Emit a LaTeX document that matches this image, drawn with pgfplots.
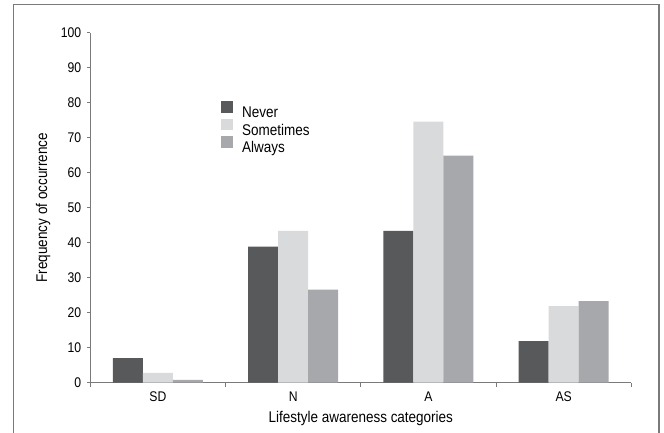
\documentclass[border=0pt]{standalone}
\usepackage{fontspec}
\setmainfont{Liberation Sans}[FakeStretch=0.87]
\usepackage{pgfplots}
\pgfplotsset{compat=1.18}

\definecolor{never}{HTML}{58595B}
\definecolor{sometimes}{HTML}{D9DADC}
\definecolor{always}{HTML}{A7A8AB}
\definecolor{axisgray}{HTML}{7A7A7A}

\begin{document}
\begin{tikzpicture}[x=1pt,y=1pt]
\useasboundingbox (0,0) rectangle (664,432);
% frame round the figure (bottom edge lies outside the picture)
\draw[axisgray, line width=1.2pt] (13.3,-2) -- (13.3,427.7) -- (659,427.7) -- (659,-2);
\begin{axis}[
    at={(90.3pt,49.3pt)}, anchor=south west,
    scale only axis, width=541pt, height=350pt,
    font=\fontsize{15.5}{17}\selectfont,
    /pgf/number format/assume math mode=true,
    ybar=0pt, bar width=30pt,
    xmin=-0.5, xmax=3.5, ymin=0, ymax=100,
    axis x line*=bottom, axis y line*=left,
    axis line style={axisgray, line width=0.8pt},
    xtick={0,1,2,3}, xticklabels={SD,N,A,AS},
    minor xtick={-0.5,0.5,1.5,2.5,3.5},
    major x tick style={draw=none},
    minor x tick style={axisgray, line width=0.8pt},
    minor tick length=4pt,
    ytick={0,10,...,100},
    ytick style={axisgray, line width=0.8pt},
    major tick length=3.5pt,
    tick align=outside,
    tick label style={font=\fontsize{14}{16}\selectfont},
    xticklabel style={yshift=-2pt},
    yticklabel style={xshift=-2pt},
    xlabel={Lifestyle awareness categories},
    xlabel style={at={(axis description cs:0.5,0)}, anchor=base, yshift=-39.6pt},
    ylabel={Frequency of occurrence},
    ylabel style={at={(axis description cs:-0.0874,0.5)}, anchor=center},
    legend style={at={(axis description cs:0.2365,0.81)}, anchor=north west,
        draw=none, fill=none, row sep=1pt, column sep=9pt,
        font=\fontsize{15.5}{17}\selectfont,
        nodes={inner sep=0pt, text height=10.5pt, text depth=0pt}},
    legend cell align=left,
    legend image code/.code={\fill[#1] (0pt,-0.6pt) rectangle (11.7pt,11.1pt);},
]
\addplot[draw=none, fill=never] coordinates {(0,7.0) (1,38.9) (2,43.4) (3,11.9)};
\addplot[draw=none, fill=sometimes] coordinates {(0,2.8) (1,43.4) (2,74.6) (3,21.9)};
\addplot[draw=none, fill=always] coordinates {(0,0.8) (1,26.6) (2,64.9) (3,23.3)};
\legend{Never,Sometimes,Always}
\end{axis}
\end{tikzpicture}
\end{document}
